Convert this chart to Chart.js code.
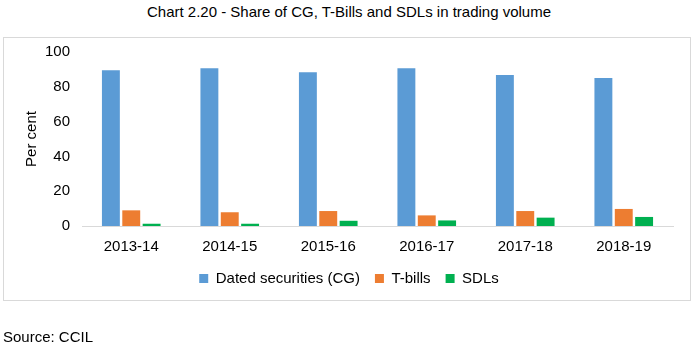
<!DOCTYPE html>
<html>
<head>
<meta charset="utf-8">
<script src="https://cdn.jsdelivr.net/npm/chart.js@4"></script>
<style>
  body { margin: 0; background: #fff; font-family: "Liberation Sans", Arial, sans-serif; }
  #wrap { position: relative; width: 698px; height: 352px; }
  #title { position: absolute; top: 3px; left: 0; width: 698px; text-align: center; font-size: 15px; color: #000; }
  #box { position: absolute; left: 3px; top: 37px; width: 686px; height: 262px; border: 1px solid #d9d9d9; }
  #source { position: absolute; left: 3px; top: 328px; font-size: 15px; color: #000; }
  canvas { position: absolute; left: 0; top: 0; }
</style>
</head>
<body>
<div id="wrap">
  <div id="title">Chart 2.20 - Share of CG, T-Bills and SDLs in trading volume</div>
  <div id="box"></div>
  <canvas id="chart" width="698" height="352"></canvas>
  <div id="source">Source: CCIL</div>
</div>
<script>
// Données
const years = ['2013-14', '2014-15', '2015-16', '2016-17', '2017-18', '2018-19'];
const datedSecurities = [89.5, 90.7, 88.4, 90.7, 86.8, 85.0];
const tBills = [9.0, 7.9, 8.6, 6.1, 8.6, 9.8];
const sdls = [1.3, 1.3, 3.0, 3.2, 4.8, 5.2];
const yTicks = [0, 20, 40, 60, 80, 100];

const fontSpec = { family: '"Liberation Sans", Arial', size: 15 };

const ctx = document.getElementById('chart').getContext('2d');
new Chart(ctx, {
  type: 'bar',
  data: {
    labels: years,
    datasets: [
      { label: 'Dated securities (CG)', data: datedSecurities, backgroundColor: '#5B9BD5' },
      { label: 'T-bills', data: tBills, backgroundColor: '#ED7D31' },
      { label: 'SDLs', data: sdls, backgroundColor: '#00B050' }
    ]
  },
  options: {
    responsive: false,
    animation: false,
    categoryPercentage: 0.62,
    barPercentage: 0.88,
    layout: { padding: { top: 52, right: 25, bottom: 56, left: 25 } },
    plugins: {
      tooltip: { enabled: false },
      legend: {
        position: 'bottom',
        labels: {
          boxWidth: 9, boxHeight: 9, padding: 15,
          color: '#000',
          font: fontSpec
        }
      }
    },
    scales: {
      x: {
        afterFit: (axis) => { axis.height = 30; },
        grid: { display: false, drawTicks: false },
        border: { color: '#d9d9d9', width: 1 },
        ticks: { color: '#000', padding: 12, font: fontSpec }
      },
      y: {
        min: 0, max: 100,
        afterBuildTicks: (axis) => { axis.ticks = yTicks.map(v => ({ value: v })); },
        afterFit: (axis) => { axis.width = 57; },
        grid: { display: false, drawTicks: false },
        border: { display: false },
        ticks: { color: '#000', padding: 12, font: fontSpec },
        title: {
          display: true, text: 'Per cent', color: '#000',
          padding: { top: -2, bottom: 0 },
          font: fontSpec
        }
      }
    }
  }
});
</script>
</body>
</html>
